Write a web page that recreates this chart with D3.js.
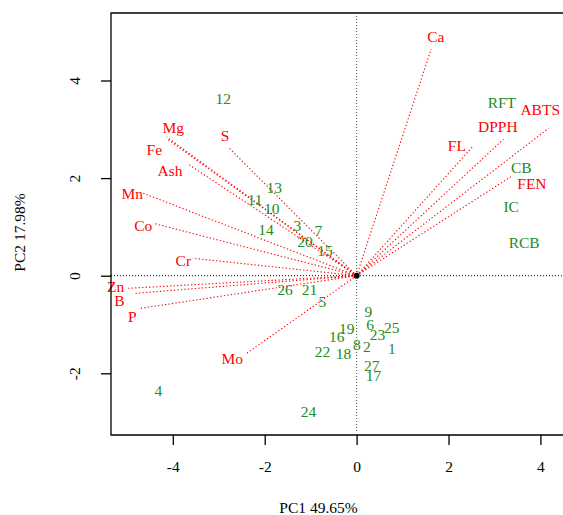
<!DOCTYPE html>
<html>
<head>
<meta charset="utf-8">
<script src="https://cdn.jsdelivr.net/npm/d3@7"></script>
<style>
  html, body { margin: 0; padding: 0; background: #fff; }
  svg { display: block; }
  svg text { font-family: "Liberation Serif", "DejaVu Serif", serif !important; }
</style>
</head>
<body>
<svg id="chart" width="563" height="515"></svg>
<script>
// ---- Data ----
const sampleLabels = ["1","2","3","4","5","6","7","8","9","10","11","12","13","14","15","16","17","18","19","20","21","22","23","24","25","26","27","RFT","CB","IC","RCB"];
const sampleX = [0.766,0.222,-1.289,-4.315,-0.745,0.294,-0.832,0.004,0.257,-1.846,-2.21,-2.90,-1.79,-1.97,-0.686,-0.431,0.366,-0.287,-0.213,-1.121,-1.028,-0.745,0.453,-1.049,0.766,-1.557,0.331,3.161,3.582,3.364,3.647];
const sampleY = [-1.488,-1.455,1.018,-2.357,-0.533,-1.010,0.916,-1.42,-0.738,1.381,1.566,3.635,1.81,0.951,0.506,-1.25,-2.055,-1.59,-1.078,0.697,-0.293,-1.557,-1.201,-2.787,-1.066,-0.293,-1.85,3.553,2.213,1.414,0.676];

const varNames  = ["Ca","ABTS","DPPH","FL","FEN","Mg","Fe","S","Ash","Mn","Co","Cr","Zn","B","P","Mo"];
const varTipX   = [1.622,4.176,3.196,2.543,3.396,-4.132,-4.104,-2.769,-3.662,-4.642,-4.424,-3.566,-4.968,-4.823,-4.698,-2.391];
const varTipY   = [4.645,3.020,2.795,2.664,2.053,2.842,2.791,2.611,2.283,1.689,1.074,0.357,-0.258,-0.361,-0.668,-1.590];
const varLabelX = [1.724,3.995,3.074,2.182,3.815,-3.989,-4.402,-2.863,-4.061,-4.881,-4.642,-3.771,-5.243,-5.164,-4.881,-2.704];
const varLabelY = [4.898,3.395,3.053,2.668,1.893,3.041,2.590,2.863,2.145,1.689,1.025,0.301,-0.225,-0.512,-0.840,-1.693];

const xTicks = [-4,-2,0,2,4];
const yTicks = [-2,0,2,4];
const xTitle = "PC1 49.65%";
const yTitle = "PC2 17.98%";

// ---- Layout ----
const svg = d3.select("#chart");
const pLeft = 111, pTop = 13, pBottom = 435, pRight = 568;
const x = d3.scaleLinear().domain([-5.345, 4.6]).range([pLeft, pRight]);
const y = d3.scaleLinear().domain([-3.264, 5.383]).range([pBottom, pTop]);

const red = "#FF0000", green = "#228B22";
const fs = 15.5;
const FONT = "Liberation Serif, DejaVu Serif, serif";

// zero reference lines
svg.append("line")
  .attr("x1", pLeft).attr("x2", 563).attr("y1", y(0)).attr("y2", y(0))
  .attr("stroke", "#000").attr("stroke-width", 1).attr("stroke-dasharray", "1,2");
svg.append("line")
  .attr("x1", x(0)).attr("x2", x(0)).attr("y1", pTop + 3).attr("y2", pBottom - 3)
  .attr("stroke", "#555").attr("stroke-width", 1).attr("stroke-dasharray", "1,2");

// variable vectors
svg.append("g").selectAll("line").data(varNames).join("line")
  .attr("x1", x(0)).attr("y1", y(0))
  .attr("x2", (d, i) => x(varTipX[i])).attr("y2", (d, i) => y(varTipY[i]))
  .attr("stroke", red).attr("stroke-width", 1.1).attr("stroke-dasharray", "1.3,2.2");

// origin
svg.append("circle").attr("cx", x(0)).attr("cy", y(0)).attr("r", 3).attr("fill", "#000");

// sample labels
svg.append("g").selectAll("text").data(sampleLabels).join("text")
  .attr("x", (d, i) => x(sampleX[i])).attr("y", (d, i) => y(sampleY[i]))
  .attr("dy", "0.35em").attr("text-anchor", "middle").attr("font-family", FONT)
  .attr("font-size", fs).attr("fill", green).text(d => d);

// variable labels
svg.append("g").selectAll("text").data(varNames).join("text")
  .attr("x", (d, i) => x(varLabelX[i])).attr("y", (d, i) => y(varLabelY[i]))
  .attr("dy", "0.35em").attr("text-anchor", "middle").attr("font-family", FONT)
  .attr("font-size", fs).attr("fill", red).text(d => d);

// box (right side is outside the window)
svg.append("path")
  .attr("d", `M${pRight + 20},${pTop}H${pLeft}V${pBottom}H${pRight + 20}`)
  .attr("fill", "none").attr("stroke", "#000").attr("stroke-width", 1.3);

// axes
const xAxis = d3.axisBottom(x).tickValues(xTicks).tickSize(10).tickFormat(d3.format("d"));
const gx = svg.append("g").attr("transform", `translate(0,${pBottom})`).call(xAxis)
  .attr("font-family", FONT).attr("font-size", fs);
gx.select(".domain").remove();
gx.selectAll(".tick line").attr("stroke", "#000").attr("stroke-width", 1.3);
gx.selectAll(".tick text").attr("fill", "#000")
  .attr("dy", null).attr("y", 33).attr("dominant-baseline", "middle").text(d => d < 0 ? "-" + Math.abs(d) : d);

const yAxis = d3.axisLeft(y).tickValues(yTicks).tickSize(10).tickFormat(d3.format("d"));
const gy = svg.append("g").attr("transform", `translate(${pLeft},0)`).call(yAxis)
  .attr("font-family", FONT).attr("font-size", fs);
gy.select(".domain").remove();
gy.selectAll(".tick line").attr("stroke", "#000").attr("stroke-width", 1.3);
gy.selectAll(".tick text").attr("fill", "#000")
  .attr("x", null).attr("dy", null).attr("text-anchor", "middle").attr("dominant-baseline", "middle")
  .attr("transform", "translate(-35,0) rotate(-90)").text(d => d < 0 ? "-" + Math.abs(d) : d);

// axis titles
svg.append("text").attr("x", 318.5).attr("y", 508).attr("dy", "0.35em").attr("font-family", FONT)
  .attr("text-anchor", "middle").attr("font-size", fs).attr("fill", "#000").text(xTitle);
svg.append("text").attr("transform", "translate(20,232.5) rotate(-90)").attr("dy", "0.35em").attr("font-family", FONT)
  .attr("text-anchor", "middle").attr("font-size", fs).attr("fill", "#000").text(yTitle);
</script>
</body>
</html>
